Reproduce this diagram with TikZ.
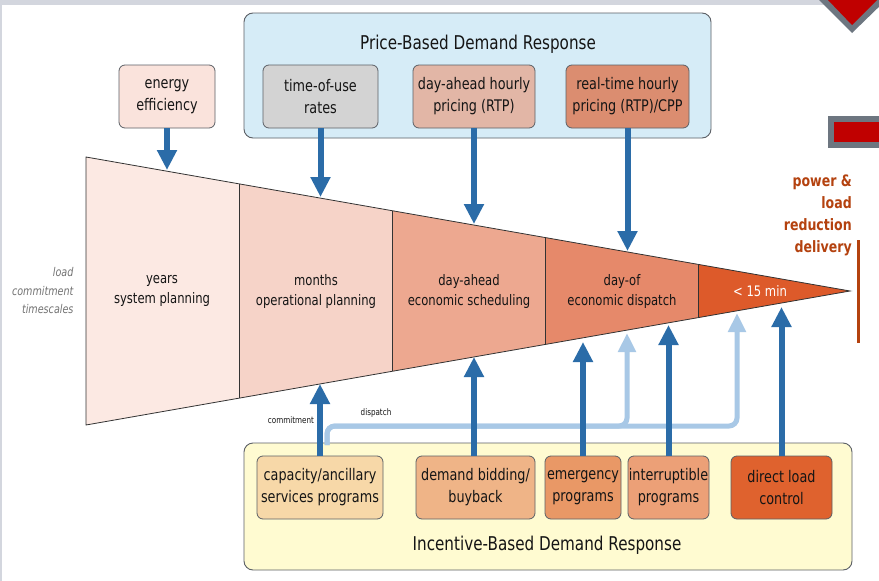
\documentclass[tikz,border=0pt]{standalone}
\usepackage{fontspec}
\setmainfont{DejaVu Sans}[FakeStretch=0.8]
\usetikzlibrary{arrows.meta}
\definecolor{framegray}{HTML}{D3D6DE}
\definecolor{decogray}{HTML}{6D7680}
\definecolor{decored}{HTML}{C00000}
\definecolor{segA}{HTML}{FCE9E3}
\definecolor{segB}{HTML}{F6D3C8}
\definecolor{segC}{HTML}{EDA890}
\definecolor{segD}{HTML}{E6896A}
\definecolor{segE}{HTML}{DD5A2A}
\definecolor{pricebg}{HTML}{D6ECF7}
\definecolor{incbg}{HTML}{FFFBD1}
\definecolor{boxline}{HTML}{5C6066}
\definecolor{eeFill}{HTML}{FAE3DC}
\definecolor{touFill}{HTML}{D3D3D3}
\definecolor{dahFill}{HTML}{E2B6A6}
\definecolor{rtFill}{HTML}{DB8D70}
\definecolor{capFill}{HTML}{F7D8A8}
\definecolor{dbFill}{HTML}{EFB487}
\definecolor{emFill}{HTML}{E99866}
\definecolor{intFill}{HTML}{ECA077}
\definecolor{dlcFill}{HTML}{DF622E}
\definecolor{darkblue}{HTML}{2B6CA8}
\definecolor{lightblue}{HTML}{A8C8E6}
\definecolor{brown}{HTML}{B4420F}
\definecolor{txt}{HTML}{151515}
\tikzset{
  progbox/.style={draw=boxline, line width=0.8pt, rounded corners=6pt, inner sep=0pt, align=center, text=txt, font=\fontsize{16}{22}\selectfont},
  segtext/.style={align=center, text=txt, font=\fontsize{14.5}{20}\selectfont},
  darr/.style={draw=darkblue, line width=6pt, -{Triangle[length=20pt,width=19pt]}},
  larr/.style={draw=lightblue, line width=5pt, rounded corners=8pt, -{Triangle[length=19pt,width=17pt]}},
  smalllab/.style={text=txt, font=\fontsize{9}{11}\selectfont, inner sep=0pt},
  group/.style={draw=boxline, line width=0.9pt, rounded corners=9pt, inner sep=0pt}
}
\begin{document}
\begin{tikzpicture}[x=1pt,y=-1pt]
\useasboundingbox (0,0) rectangle (879,581);
\fill[white] (0,0) rectangle (879,581);
% frame decorations
\fill[framegray] (0,0) rectangle (879,5);
\fill[framegray] (0,0) rectangle (2,581);
\fill[decogray] (819,0) -- (886,0) -- (852,33) -- cycle;
\fill[decored] (828,0) -- (877,0) -- (852,25) -- cycle;
\fill[decogray] (828,116) rectangle (882,148);
\fill[decored] (834,122) rectangle (882,142);

% funnel segments
\fill[segA] (86,157) -- (239,183.8) -- (239,398.2) -- (86,425) -- cycle;
\fill[segB] (239,183.8) -- (392,210.7) -- (392,371.3) -- (239,398.2) -- cycle;
\fill[segC] (392,210.7) -- (545,237.5) -- (545,344.5) -- (392,371.3) -- cycle;
\fill[segD] (545,237.5) -- (698,264.3) -- (698,317.7) -- (545,344.5) -- cycle;
\fill[segE] (698,264.3) -- (850,291) -- (698,317.7) -- cycle;
\draw[line width=0.8pt, black!80] (86,157) -- (850,291) -- (86,425) -- cycle;
\foreach \x/\t/\b in {239/183.8/398.2, 392/210.7/371.3, 545/237.5/344.5, 698/264.3/317.7}
  \draw[line width=0.8pt, black!80] (\x,\t) -- (\x,\b);

\node[segtext] (s1) at (162,291) {years\\system planning};
\node[segtext] (s2) at (316,291) {months\\operational planning};
\node[segtext] (s3) at (469,291) {day-ahead\\economic scheduling};
\node[segtext] (s4) at (622,291) {day-of\\economic dispatch};
\node[segtext, text=white] (s5) at (760,291) {< 15 min};

\node[anchor=east, align=right, text=black!55, font=\fontsize{12}{18.5}\selectfont\itshape] (lct) at (77,291) {load\\commitment\\timescales};

\node[anchor=north east, align=right, text=brown, font=\fontsize{15.7}{22}\selectfont\bfseries, inner sep=0pt] (pld) at (852,175) {power \&\\load\\reduction\\delivery};
\coordinate (dl1) at (858,240);
\coordinate (dl2) at (858,343);
\draw[brown, line width=3pt] (dl1) -- (dl2);

% price-based group
\node[group, fill=pricebg, minimum width=467pt, minimum height=125pt] (price) at (477.5,75.5) {};
\node[text=txt, font=\fontsize{19}{22}\selectfont] (pricet) at (478,44) {Price-Based Demand Response};
\node[progbox, fill=eeFill, minimum width=96pt, minimum height=63pt] (ee) at (167,96.5) {energy\\efficiency};
\node[progbox, fill=touFill, minimum width=115pt, minimum height=63pt] (tou) at (320.5,96.5) {time-of-use\\rates};
\node[progbox, fill=dahFill, minimum width=122pt, minimum height=63pt] (dah) at (474,96.5) {day-ahead hourly\\pricing (RTP)};
\node[progbox, fill=rtFill, minimum width=123pt, minimum height=63pt] (rt) at (627.5,96.5) {real-time hourly\\pricing (RTP)/CPP};

\coordinate (eeT) at (167,170);
\coordinate (touT) at (320.5,197);
\coordinate (dahT) at (474,224);
\coordinate (rtT) at (627.5,251);
\draw[darr] (ee.south) -- (eeT);
\draw[darr] (tou.south) -- (touT);
\draw[darr] (dah.south) -- (dahT);
\draw[darr] (rt.south) -- (rtT);

% incentive-based group
\node[group, fill=incbg, minimum width=608pt, minimum height=127pt] (inc) at (548,506.5) {};
\node[text=txt, font=\fontsize{19}{22}\selectfont] (inct) at (547,545) {Incentive-Based Demand Response};

% light dispatch paths
\coordinate (lS) at (327,445);
\coordinate (lT1) at (627,333);
\coordinate (lT2) at (737,313);
\draw[larr] (lS) -- (327,426) -- (627,426) -- (lT1);
\draw[larr] (lS) -- (327,426) -- (737,426) -- (lT2);

\node[progbox, fill=capFill, minimum width=126pt, minimum height=63pt] (cap) at (320,487.5) {capacity/ancillary\\services programs};
\node[progbox, fill=dbFill, minimum width=119pt, minimum height=63pt] (db) at (475.5,487.5) {demand bidding/\\buyback};
\node[progbox, fill=emFill, minimum width=76pt, minimum height=63pt] (em) at (583,487.5) {emergency\\programs};
\node[progbox, fill=intFill, minimum width=81pt, minimum height=63pt] (int) at (668.5,487.5) {interruptible\\programs};
\node[progbox, fill=dlcFill, minimum width=101pt, minimum height=63pt] (dlc) at (781.5,487.5) {direct load\\control};

\coordinate (capT) at (320,384);
\coordinate (dbT) at (474,357);
\coordinate (emT) at (583,342);
\coordinate (intT) at (668.5,325);
\coordinate (dlcT) at (781.5,307);
\draw[darr] (cap.north) -- (capT);
\draw[darr] (db.north -| dbT) -- (dbT);
\draw[darr] (em.north) -- (emT);
\draw[darr] (int.north) -- (intT);
\draw[darr] (dlc.north) -- (dlcT);

\node[smalllab] (comm) at (291,420) {commitment};
\node[smalllab] (disp) at (376,413) {dispatch};
\end{tikzpicture}
\end{document}
